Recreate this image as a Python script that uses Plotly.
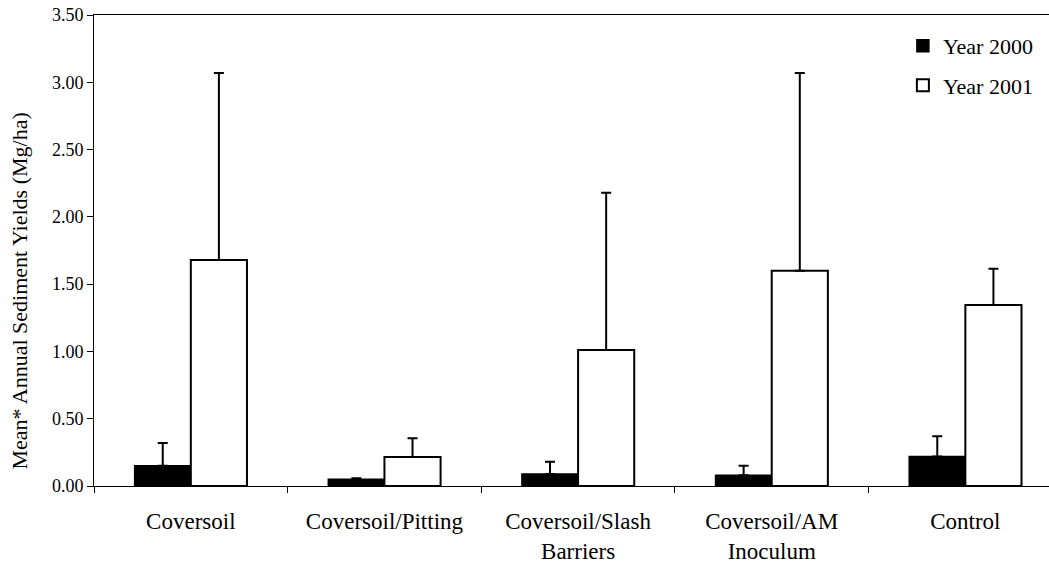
import plotly.graph_objects as go

categories = ["Coversoil", "Coversoil/Pitting", "Coversoil/Slash<br>Barriers",
              "Coversoil/AM<br>Inoculum", "Control"]
year2000 = [0.15, 0.05, 0.09, 0.08, 0.22]
year2000_err = [0.17, 0.007, 0.09, 0.07, 0.15]
year2001 = [1.68, 0.215, 1.01, 1.60, 1.345]
year2001_err = [1.39, 0.14, 1.17, 1.47, 0.27]
yticks = [0, 0.5, 1.0, 1.5, 2.0, 2.5, 3.0, 3.5]

FONT = "Liberation Serif"

fig = go.Figure()
fig.add_trace(go.Bar(
    x=categories, y=year2000, name="Year 2000",
    marker=dict(color="black", line=dict(color="black", width=1.5)),
    error_y=dict(type="data", array=year2000_err, arrayminus=[0]*5, symmetric=False,
                 color="black", thickness=2, width=5),
    legendgroup="a",
))
fig.add_trace(go.Bar(
    x=categories, y=year2001, name="Year 2001",
    marker=dict(color="white", line=dict(color="black", width=2)),
    error_y=dict(type="data", array=year2001_err, arrayminus=[0]*5, symmetric=False,
                 color="black", thickness=2, width=5),
    legendgroup="b",
))

fig.update_layout(
    width=1049, height=569,
    margin=dict(l=94, r=0, t=15, b=83, autoexpand=False),
    paper_bgcolor="white", plot_bgcolor="white",
    barmode="group", bargap=0.42, bargroupgap=0,
    font=dict(family=FONT, color="black"),
    showlegend=True,
    legend=dict(x=0.847, xanchor="left", y=0.979, yanchor="top",
                font=dict(family=FONT, size=22), bgcolor="rgba(0,0,0,0)",
                tracegroupgap=8, traceorder="grouped", itemwidth=30),
    xaxis=dict(range=[-0.5, 4.432], showline=True, linecolor="black", linewidth=1,
               mirror=True, ticks="outside", ticklen=6, tickcolor="black",
               tickson="boundaries", showgrid=False, automargin=False,
               tickfont=dict(family=FONT, size=23), ticklabelstandoff=14),
    yaxis=dict(range=[0, 3.5001], tickvals=yticks, tickformat=".2f", showline=True,
               linecolor="black", linewidth=1, ticks="outside", ticklen=6,
               tickcolor="black", showgrid=False, zeroline=False, automargin=False,
               ticklabeloverflow="allow",
               tickfont=dict(family=FONT, size=18)),
    annotations=[dict(text="Mean* Annual Sediment Yields (Mg/ha)", xref="paper", yref="paper",
                      x=-0.0775, y=0.415, xanchor="center", yanchor="middle", textangle=-90,
                      showarrow=False, font=dict(family=FONT, size=22))],
)

fig.write_html("out.html", config={"displayModeBar": False},
               post_script="document.body.style.margin='0';")
